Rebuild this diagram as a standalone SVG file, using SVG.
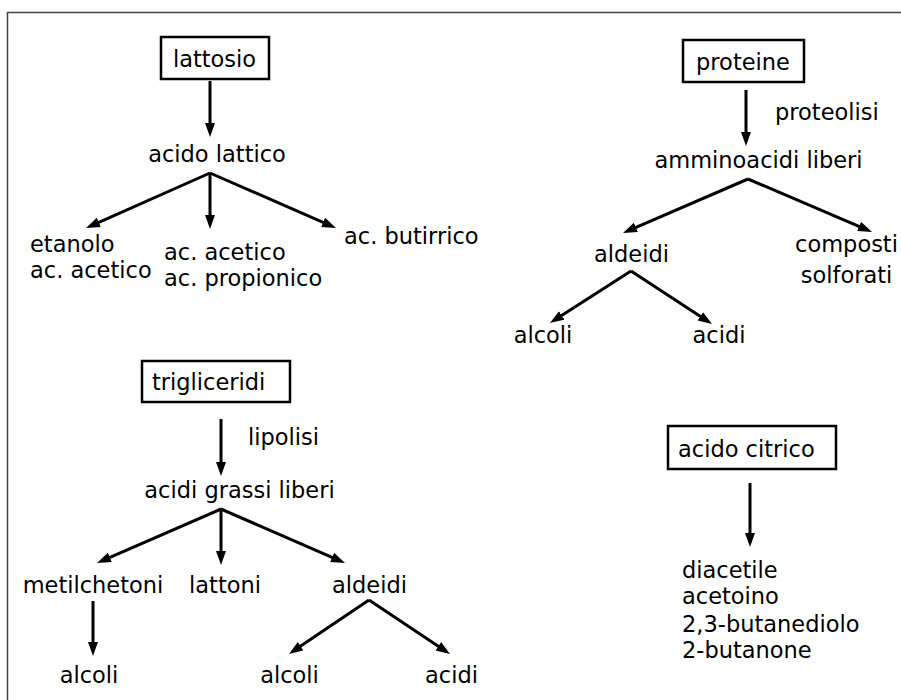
<svg xmlns="http://www.w3.org/2000/svg" width="901" height="700" viewBox="0 0 901 700">
<style>
text{font-family:"DejaVu Sans","Liberation Sans",sans-serif;font-size:22.5px;fill:#000}
.c{text-anchor:middle}
.box{fill:#fff;stroke:#000;stroke-width:2.5}
.con path{fill:none;stroke:#000;stroke-width:3;marker-end:url(#ah)}
</style>
<defs>
<marker id="ah" markerUnits="userSpaceOnUse" markerWidth="16" markerHeight="12" refX="8" refY="5" orient="auto">
<path d="M0,0 L14,5 L0,10 z" fill="#000"/>
</marker>
</defs>
<rect width="901" height="700" fill="#fff"/>
<path d="M7.5,700 V12.5 H901" fill="none" stroke="#444" stroke-width="1.5"/>
<g class="con">
<path d="M210,81 V131"/>
<path d="M210,173 L91.5,225.6"/>
<path d="M210,173 V223"/>
<path d="M210,173 L330.5,225.6"/>
<path d="M746,90 V140"/>
<path d="M748,179 L628.5,230.6"/>
<path d="M748,179 L866.5,229.6"/>
<path d="M631,271 L555,319.8"/>
<path d="M631,271 L707,320.7"/>
<path d="M221,419 V470"/>
<path d="M221,509 L102.5,560.6"/>
<path d="M221,509 V559"/>
<path d="M221,509 L339.5,560.6"/>
<path d="M93,601 V650"/>
<path d="M369,600 L294,650.6"/>
<path d="M369,600 L445,650.7"/>
<path d="M750,483 V541"/>
</g>
<g id="lattosio"><rect class="box" x="161" y="37" width="108" height="42"/><text class="c" x="214.5" y="67">lattosio</text></g>
<g id="acido-lattico"><text class="c" x="217" y="162">acido lattico</text></g>
<g id="etanolo"><text x="30" y="252">etanolo</text><text x="30" y="278">ac. acetico</text></g>
<g id="acetico-propionico"><text x="164" y="260">ac. acetico</text><text x="164" y="286">ac. propionico</text></g>
<g id="butirrico"><text x="344" y="244">ac. butirrico</text></g>
<g id="proteine"><rect class="box" x="683" y="40" width="121" height="42"/><text class="c" x="743" y="70">proteine</text></g>
<g id="proteolisi"><text x="775" y="120">proteolisi</text></g>
<g id="amminoacidi"><text class="c" x="758.5" y="168">amminoacidi liberi</text></g>
<g id="aldeidi-p"><text class="c" x="631.5" y="262">aldeidi</text></g>
<g id="composti"><text class="c" x="846.5" y="252">composti</text><text class="c" x="846.5" y="283">solforati</text></g>
<g id="alcoli-p"><text class="c" x="543" y="343">alcoli</text></g>
<g id="acidi-p"><text class="c" x="719" y="343">acidi</text></g>
<g id="trigliceridi"><rect class="box" x="142" y="361" width="148" height="41"/><text x="152" y="390">trigliceridi</text></g>
<g id="lipolisi"><text x="248" y="445">lipolisi</text></g>
<g id="acidi-grassi"><text class="c" x="239.5" y="498">acidi grassi liberi</text></g>
<g id="metilchetoni"><text class="c" x="93" y="593">metilchetoni</text></g>
<g id="lattoni"><text class="c" x="225" y="593">lattoni</text></g>
<g id="aldeidi-t"><text class="c" x="369.5" y="593">aldeidi</text></g>
<g id="alcoli-m"><text class="c" x="89" y="683">alcoli</text></g>
<g id="alcoli-t"><text class="c" x="289.5" y="683">alcoli</text></g>
<g id="acidi-t"><text class="c" x="451.5" y="683">acidi</text></g>
<g id="acido-citrico"><rect class="box" x="668" y="426" width="168" height="43"/><text x="678" y="457">acido citrico</text></g>
<g id="prodotti"><text x="682" y="578">diacetile</text><text x="682" y="604">acetoino</text><text x="682" y="632">2,3-butanediolo</text><text x="682" y="658">2-butanone</text></g>
</svg>
